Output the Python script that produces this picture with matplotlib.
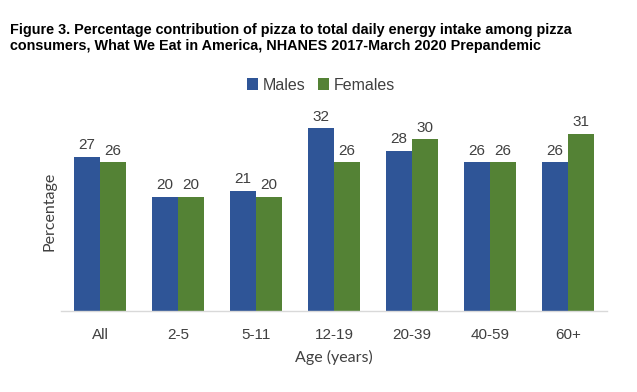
import matplotlib
matplotlib.use("Agg")
import matplotlib.pyplot as plt
import numpy as np

categories = ["All", "2-5", "5-11", "12-19", "20-39", "40-59", "60+"]
males = [27, 20, 21, 32, 28, 26, 26]
females = [26, 20, 20, 26, 30, 26, 31]

blue = "#2F5597"
green = "#548235"
txt = "#404040"

fig = plt.figure(figsize=(6.37, 3.92), dpi=100)
ax = fig.add_axes([0.096, 0.207, 0.857, 0.51])

x = np.arange(len(categories))
w = 0.333
b1 = ax.bar(x - w/2, males, w, color=blue, label="Males")
b2 = ax.bar(x + w/2, females, w, color=green, label="Females")
for bars in (b1, b2):
    for r in bars:
        ax.text(r.get_x() + r.get_width()/2, r.get_height() + 0.8, f"{int(r.get_height())}",
                ha="center", va="bottom", fontsize=11, color=txt, family="Liberation Sans")

ax.set_xlim(-0.5, len(categories) - 0.5)
ax.set_ylim(0, 35)
ax.set_yticks([])
ax.set_xticks(x)
ax.set_xticklabels(categories, fontsize=11, color=txt, family="Liberation Sans")
ax.tick_params(axis="x", length=0, pad=12)
for s in ["top", "right", "left"]:
    ax.spines[s].set_visible(False)
ax.spines["bottom"].set_color("#D9D9D9")
ax.spines["bottom"].set_linewidth(1.0)
ax.set_xlabel("Age (years)", fontsize=11.5, color=txt, family="Lato", labelpad=6)
ax.set_ylabel("Percentage", fontsize=11.5, color=txt, family="Lato", labelpad=3)

fig.legend(handles=[b1, b2], labels=["Males", "Females"], loc="center", bbox_to_anchor=(321/637, 1 - 85/392),
           ncol=2, frameon=False, handlelength=0.7, handleheight=0.7, handletextpad=0.3,
           columnspacing=0.8, prop={"family": "Liberation Sans", "size": 11.5}, labelcolor=txt)

fig.text(10/637, 1 - 38/392, "Figure 3. Percentage contribution of pizza to total daily energy intake among pizza\nconsumers, What We Eat in America, NHANES 2017-March 2020 Prepandemic",
         fontsize=10.4, fontweight="bold", family="Liberation Sans", va="center", ha="left", linespacing=1.1)

fig.savefig("out.png", dpi=100)
